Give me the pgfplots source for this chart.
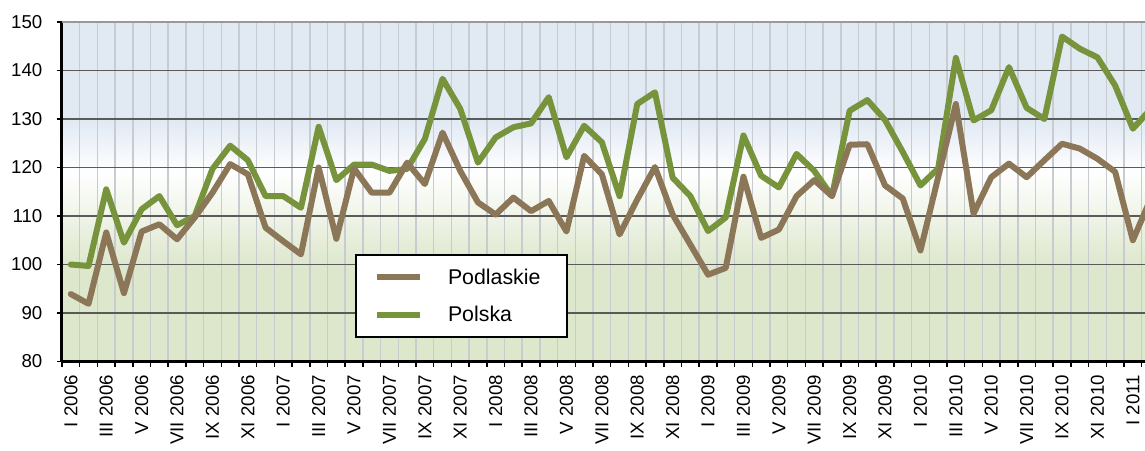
\documentclass[border=0pt]{standalone}
\usepackage{pgfplots}
\usepackage{pgfplotstable}
\pgfplotsset{compat=1.18}
\usepackage{fontspec}
\setmainfont{Liberation Sans}
\definecolor{podl}{RGB}{140,118,88}
\definecolor{pols}{RGB}{119,147,60}
\definecolor{bgblue}{RGB}{225,233,243}
\definecolor{bggreen}{RGB}{221,231,204}
\definecolor{vgrid}{RGB}{200,204,208}
\definecolor{hgrid}{RGB}{90,90,90}
\pgfdeclareverticalshading{bgshade}{100bp}{color(0bp)=(bggreen); color(39bp)=(bggreen); color(53bp)=(white); color(60.5bp)=(bgblue); color(100bp)=(bgblue)}

\pgfplotstableread{
i podl pols
0 93.9 100.0
1 91.9 99.7
2 106.6 115.5
3 94.1 104.5
4 106.8 111.4
5 108.3 114.1
6 105.2 108.1
7 109.7 110.0
8 114.8 119.7
9 120.7 124.5
10 118.6 121.5
11 107.6 114.1
12 104.8 114.1
13 102.1 111.7
14 120.0 128.4
15 105.3 117.4
16 119.8 120.6
17 114.8 120.6
18 114.8 119.3
19 121.0 119.7
20 116.6 125.9
21 127.2 138.3
22 119.3 132.1
23 112.8 121.0
24 110.3 126.2
25 113.8 128.3
26 111.0 129.1
27 113.1 134.5
28 106.8 122.1
29 122.4 128.6
30 118.6 125.2
31 106.2 114.1
32 113.4 133.1
33 120.1 135.5
34 110.3 117.9
35 104.1 114.1
36 97.9 106.9
37 99.3 109.7
38 118.1 126.6
39 105.5 118.3
40 107.2 115.9
41 114.1 122.8
42 117.4 119.3
43 114.1 114.1
44 124.7 131.7
45 124.8 133.9
46 116.3 129.8
47 113.6 123.2
48 102.9 116.3
49 118.0 119.8
50 133.1 142.6
51 110.5 129.7
52 118.0 131.8
53 120.8 140.7
54 118.0 132.3
55 121.5 130.0
56 124.9 147.0
57 123.9 144.5
58 121.8 142.7
59 119.1 136.9
60 105.0 128.0
61 113.5 132.0
}\datatable

\begin{document}
\begin{tikzpicture}
\begin{axis}[
  at={(0pt,0pt)}, anchor=south west,
  scale only axis,
  width=823.05pt, height=254.625pt,
  xmin=-0.5, xmax=61.5,
  ymin=80, ymax=150,
  clip mode=individual,
  axis background/.style={shade, shading=bgshade},
  axis line style={draw=none},
  ytick={80,90,...,150},
  xtick={0,2,...,60},
  xticklabels={I 2006, III 2006, V 2006, VII 2006, IX 2006, XI 2006,
               I 2007, III 2007, V 2007, VII 2007, IX 2007, XI 2007,
               I 2008, III 2008, V 2008, VII 2008, IX 2008, XI 2008,
               I 2009, III 2009, V 2009, VII 2009, IX 2009, XI 2009,
               I 2010, III 2010, V 2010, VII 2010, IX 2010, XI 2010,
               I 2011},
  minor xtick={-0.5,0.5,...,61.5},
  xminorgrids=true, ymajorgrids=true,
  minor x grid style={vgrid, line width=1.1pt},
  major y grid style={hgrid, line width=0.8pt},
  tick align=outside, tick pos=left,
  major tick length=3.75pt, minor tick length=3.75pt,
  major x tick style={draw=none},
  minor x tick style={black, line width=1.1pt},
  major y tick style={black, line width=1.1pt},
  /pgf/number format/assume math mode=true,
  yticklabel style={font=\fontsize{14}{16}\selectfont, xshift=-7.5pt},
  xticklabel style={font=\fontsize{14}{16}\selectfont, yshift=-3pt, rotate=90, anchor=east},
  reverse legend,
  legend cell align=left,
  legend image code/.code={\draw[#1, line cap=butt] (0pt,0pt) -- (32.25pt,0pt);},
  legend style={at={(axis description cs:0.267,0.0692)}, anchor=south west,
    draw=black, line width=1.5pt, fill=white,
    inner xsep=13.5pt, inner ysep=10pt, row sep=15pt,
    font=\fontsize{16}{18}\selectfont,
    nodes={inner sep=0pt},
    /tikz/every odd column/.style={column sep=18.75pt}},
]
\addplot[pols, line width=4.5pt, line join=round, line cap=round, mark=none] table[x=i, y=pols] {\datatable};
\addlegendentry{Polska}
\addplot[podl, line width=4.5pt, line join=round, line cap=round, mark=none] table[x=i, y=podl] {\datatable};
\addlegendentry{Podlaskie\rule{6pt}{0pt}}
\draw[black, line width=2.25pt] (rel axis cs:0,0) -- (rel axis cs:1,0);
\draw[black, line width=2.25pt] (rel axis cs:0,0) -- (rel axis cs:0,1);
\draw[black!40, line width=1.5pt] (rel axis cs:0,1) -- (rel axis cs:1,1);
\end{axis}
\pgfresetboundingbox
\path[use as bounding box] (-46.5pt,-66.375pt) rectangle (812.25pt,271.125pt);
\end{tikzpicture}
\end{document}
